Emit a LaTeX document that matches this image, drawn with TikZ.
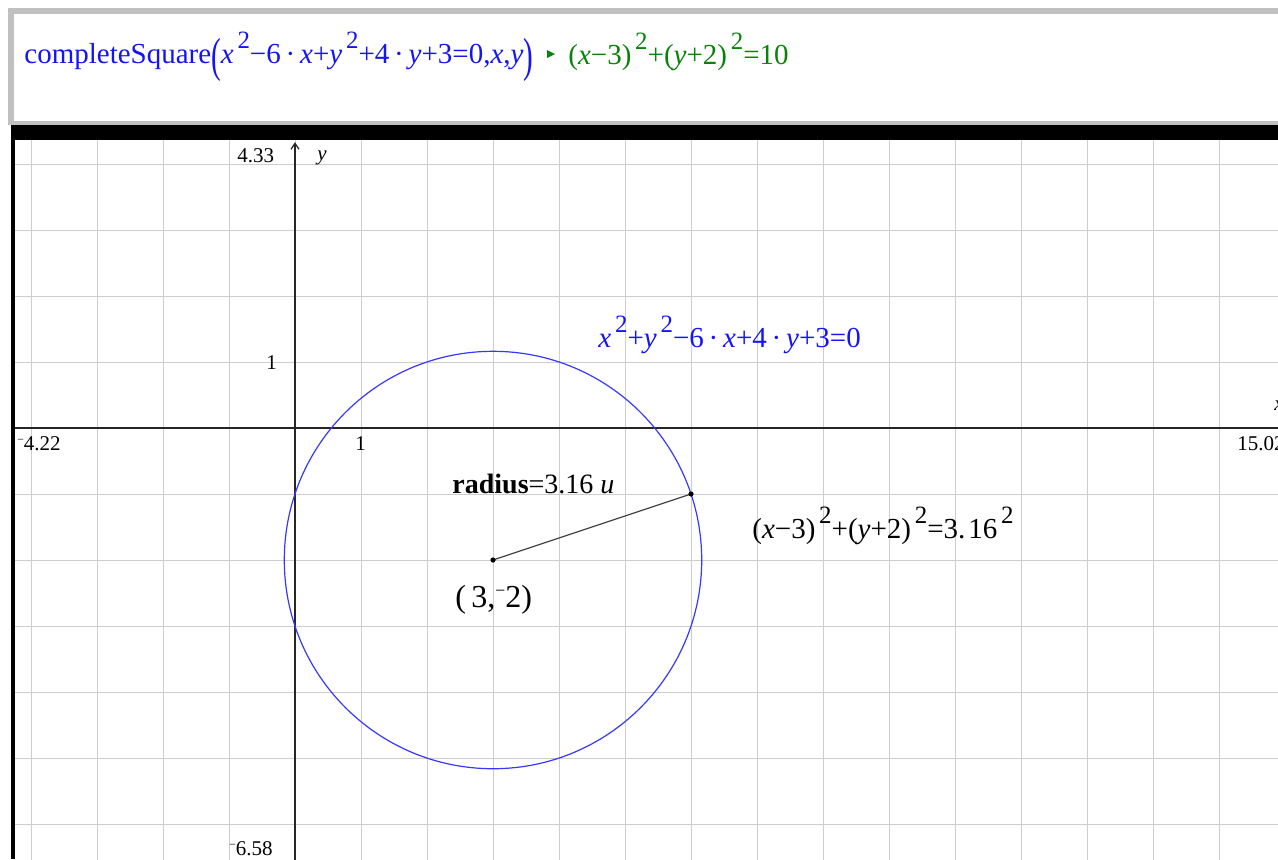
\documentclass[tikz,border=0pt]{standalone}
\usepackage{fontspec}
\setmainfont{Liberation Serif}
\usepackage{graphicx}
\usetikzlibrary{arrows.meta}
\definecolor{tiblue}{RGB}{20,20,245}
\definecolor{circblue}{RGB}{55,55,255}
\definecolor{tigreen}{RGB}{10,130,10}
\definecolor{tigray}{RGB}{192,192,192}
\definecolor{tigrid}{RGB}{205,205,205}
\newcommand\tisq{\hspace{0.13em}\raisebox{0.5em}{\scalebox{0.86}{2}}}
\newcommand\timin{\char"2212\relax}
\newcommand\tineg{\raisebox{0.32em}{\scalebox{0.55}{\char"2212\relax}}}
\newcommand\tidot{\,\textperiodcentered\,}
\newcommand\tibig[1]{\raisebox{-0.3em}{\scalebox{1}[1.65]{#1}}}
\tikzset{
  txt/.style={inner sep=0pt, anchor=base west},
  entry/.style={txt, font=\fontsize{14.5}{16}\selectfont},
  axlabel/.style={txt, font=\fontsize{10.5}{12}\selectfont},
  gridline/.style={tigrid, line width=0.5pt},
  axis/.style={black!85, line width=0.6pt, -{Straight Barb[length=3pt,width=4pt]}},
  dot/.style={circle, fill=black, inner sep=0pt, minimum size=2.6pt},
}
\begin{document}
\begin{tikzpicture}[x=0.5pt,y=-0.5pt]
  \useasboundingbox (0,0) rectangle (1278,859);
  % entry line panel
  \fill[tigray] (8,8) rectangle (1278,125);
  \fill[white] (14,14) rectangle (1278,121);
  % graph frame
  \fill[black] (11,125) rectangle (1278,140);
  \fill[black] (11,140) rectangle (15,859);
  % command and result
  \node[entry, tiblue] (cmd) at (24,63) {completeSquare\tibig{(}\textit{x}\tisq\timin 6\tidot\textit{x}+\textit{y}\tisq+4\tidot\textit{y}+3=0,\textit{x},\textit{y}\tibig{)}};
  \fill[tigreen] (547,50) -- (555,54) -- (547,58) -- cycle;
  \node[entry, tigreen] (res) at (568,64) {(\textit{x}\timin 3)\tisq+(\textit{y}+2)\tisq=10};
  % graph
  \begin{scope}
    \clip (15,140) rectangle (1278,859);
    \begin{scope}[shift={(295,428)}, x=33pt, y=33pt]
      \foreach \gx in {-4,...,15}
        \draw[gridline] (\gx,-7) -- (\gx,5);
      \foreach \gy in {-7,...,5}
        \draw[gridline] (-5,\gy) -- (15,\gy);
      \draw[axis] (-4.3,0) -- (15.02,0);
      \draw[axis] (0,-6.7) -- (0,4.33);
      \coordinate (ctr) at (3,-2);
      \coordinate (rpt) at (6,-1);
      \draw[circblue, line width=0.6pt] (ctr) circle ({sqrt(10)});
      \draw[black!75, line width=0.6pt] (ctr) -- (rpt);
      \node[dot] (ctrdot) at (ctr) {};
      \node[dot] (rptdot) at (rpt) {};
    \end{scope}
  \end{scope}
  % axis labels
  \node[axlabel] (ymaxlbl) at (237,162) {4.33};
  \node[axlabel, font=\fontsize{10.5}{12}\selectfont\itshape] (ylbl) at (317,160) {y};
  \node[axlabel] (yonelbl) at (266,369) {1};
  \node[axlabel] (xminlbl) at (17,450) {\tineg 4.22};
  \node[axlabel] (xonelbl) at (355,450) {1};
  \node[axlabel] (xmaxlbl) at (1237,450) {15.02};
  \node[axlabel, font=\fontsize{10.5}{12}\selectfont\itshape] (xlbl) at (1274,410) {x};
  \node[axlabel] (yminlbl) at (229,855) {\tineg 6.58};
  % circle labels
  \node[entry, tiblue] (eqlbl) at (598,347) {\textit{x}\tisq+\textit{y}\tisq\timin 6\tidot\textit{x}+4\tidot\textit{y}+3=0};
  \node[entry, font=\fontsize{14}{16}\selectfont] (radlbl) at (452,493) {\textbf{radius}=3.16 \textit{u}};
  \node[entry] (stdlbl) at (752,538) {(\textit{x}\timin 3)\tisq+(\textit{y}+2)\tisq=3.\kern0.1em 16\tisq};
  \node[entry, font=\fontsize{16}{18}\selectfont] (ctrlbl) at (455,607) {(\,3,\tineg 2)};
\end{tikzpicture}
\end{document}
